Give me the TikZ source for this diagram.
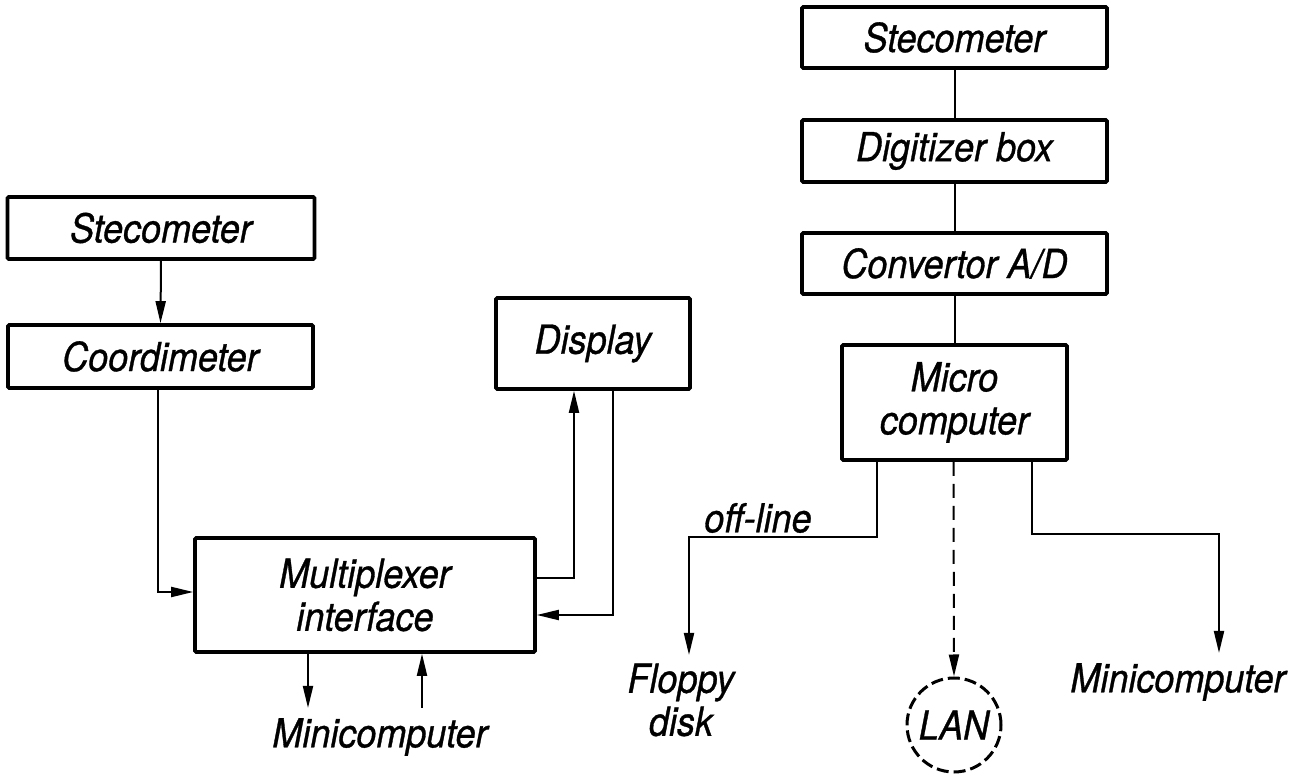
\documentclass[tikz,border=0pt]{standalone}
\usepackage{fontspec}
\newfontfamily\labfont{TeX Gyre Heros}[FakeStretch=0.9,FakeBold=0.8]
\usetikzlibrary{arrows.meta,calc}
\begin{document}
\begin{tikzpicture}[x=0.5pt,y=-0.5pt,
  lab/.style={font=\labfont\itshape\fontsize{20}{21.5}\selectfont, align=center, inner sep=0pt},
  blk/.style={lab, draw, line width=1.8pt, rounded corners=0.6pt},
  con/.style={line width=1pt},
  arr/.style={con, -{Triangle[length=11pt,width=5pt]}},
  every path/.style={black}]
\useasboundingbox (0,0) rectangle (1297,774);
% left part
\node[blk, minimum width=153.5pt, minimum height=31pt] (lst) at (161,228) {Stecometer};
\node[blk, minimum width=152.5pt, minimum height=31.5pt] (lco) at (160.5,356.5) {Coordimeter};
\node[blk, minimum width=97pt, minimum height=45.5pt] (disp) at (593,343.5) {Display};
\node[blk, minimum width=170pt, minimum height=57pt] (mux) at (365,595) {Multiplexer\\interface};
\node[lab] (lmini) at (380,737) {Minicomputer};
\coordinate (ld) at (308,708);
\coordinate (lu) at (422,708);
\draw[arr] (lst.south) -- (lco.north);
\draw[arr] ($(lco.south)+(-3,0)$) |- ($(mux.west)+(0,-3)$);
\draw[arr] ($(mux.east)+(0,-17)$) -| ($(disp.south)+(-19,0)$);
\draw[arr] ($(disp.south)+(20,0)$) |- ($(mux.east)+(0,20)$);
\draw[arr] (mux.south -| ld) -- (ld);
\draw[arr] (lu) -- (mux.south -| lu);
% right part
\node[blk, minimum width=152.5pt, minimum height=30.5pt] (rst) at (954.5,37.5) {Stecometer};
\node[blk, minimum width=152.5pt, minimum height=31pt] (rdg) at (954.5,151) {Digitizer box};
\node[blk, minimum width=152.5pt, minimum height=30.5pt] (rcv) at (954.5,263.5) {Convertor A/D};
\node[blk, minimum width=112.5pt, minimum height=57.5pt] (mic) at (954.5,402.5) {Micro\\computer};
\draw[con] (rst.south) -- (rdg.north);
\draw[con] (rdg.south) -- (rcv.north);
\draw[con] (rcv.south) -- (mic.north);
\node[circle, draw, dash pattern=on 6pt off 2.5pt, line width=1.5pt, minimum size=47pt, inner sep=0pt,
      font=\labfont\itshape\fontsize{20}{21.5}\selectfont] (lan) at (954,725) {LAN};
\node[lab] (floppy) at (681,700) {Floppy\\disk};
\node[lab] (rmini) at (1178,682) {Minicomputer};
\node[lab] (offl) at (758,518) {off-line};
\coordinate (fl) at (689,655);
\coordinate (rm) at (1219,653);
\draw[arr] ($(mic.south)+(-78,0)$) |- ($(fl)+(0,-118)$) -- (fl);
\draw[arr, dash pattern=on 7pt off 4pt] ($(mic.south)+(-1,0)$) -- (lan.north);
\draw[arr] ($(mic.south)+(77,0)$) |- ($(rm)+(0,-119)$) -- (rm);
\end{tikzpicture}
\end{document}
